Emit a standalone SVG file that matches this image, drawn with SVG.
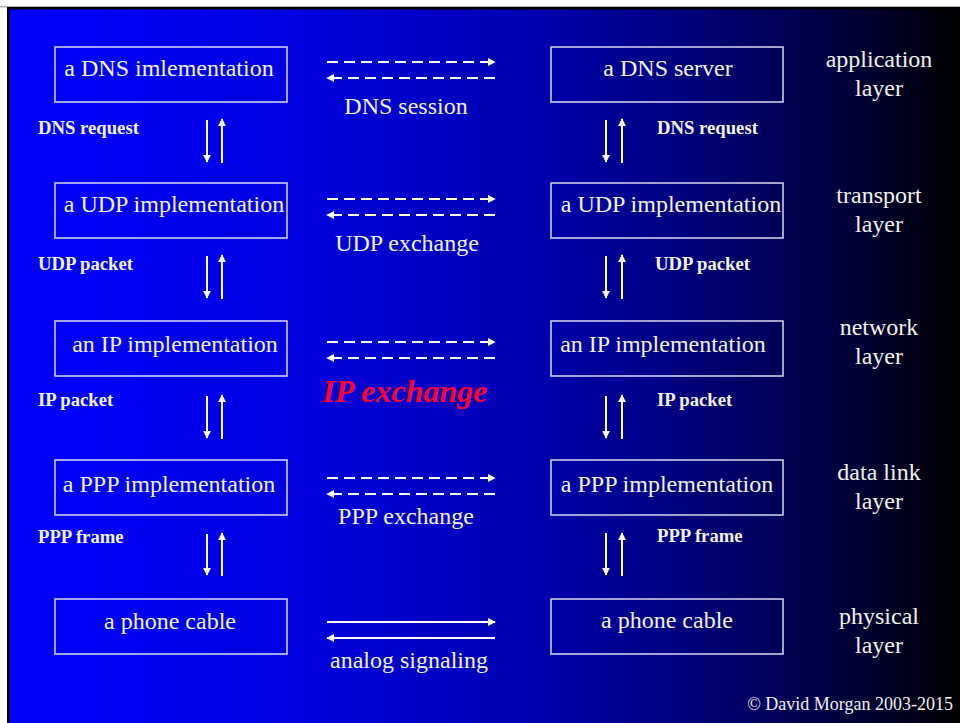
<svg xmlns="http://www.w3.org/2000/svg" width="960" height="723" viewBox="0 0 960 723">
<defs>
<linearGradient id="bg" x1="9" y1="0" x2="960" y2="0" gradientUnits="userSpaceOnUse">
<stop offset="0" stop-color="#0000FF"/>
<stop offset="0.3" stop-color="#0000E0"/>
<stop offset="0.55" stop-color="#0000B0"/>
<stop offset="0.7" stop-color="#000080"/>
<stop offset="0.83" stop-color="#000050"/>
<stop offset="0.92" stop-color="#000028"/>
<stop offset="1" stop-color="#000000"/>
</linearGradient>
<marker id="ah" viewBox="0 0 10 10" refX="9" refY="5" markerWidth="4" markerHeight="4" orient="auto" markerUnits="strokeWidth">
<path d="M0,0 L10,5 L0,10 Z" fill="#FFFFFF"/>
</marker>
<style>
.box{fill:none;stroke:#D8D8F0;stroke-width:1.5}
.bt{font-family:"Liberation Serif",serif;font-size:24px;fill:#F2F2F2;text-anchor:middle}
.lay{font-family:"Liberation Serif",serif;font-size:24px;fill:#F2F2F2;text-anchor:middle}
.pk{font-family:"Liberation Serif",serif;font-size:18.7px;font-weight:bold;fill:#F2F2F2}
.mid{font-family:"Liberation Serif",serif;font-size:24px;fill:#F2F2F2;text-anchor:middle}
.ip{font-family:"Liberation Serif",serif;font-size:32px;font-weight:bold;font-style:italic;fill:#FF0033;text-anchor:middle}
.da{stroke:#FFFFFF;stroke-width:2;stroke-dasharray:11,6;fill:none;marker-end:url(#ah)}
.so{stroke:#FFFFFF;stroke-width:2;fill:none;marker-end:url(#ah)}
.cp{font-family:"Liberation Serif",serif;font-size:18px;fill:#F2F2F2;text-anchor:end}
</style>
</defs>
<rect x="0" y="0" width="960" height="723" fill="#FFFFFF"/>
<rect x="0" y="6" width="960" height="1.5" fill="#B0B0B0"/>
<rect x="7" y="7" width="953" height="716" fill="#000000"/>
<rect x="9.5" y="9.5" width="950.5" height="713.5" fill="url(#bg)"/>

<g id="n-dns-impl"><rect class="box" x="55" y="47" width="232" height="55"/><text class="bt" x="169" y="76">a DNS imlementation</text></g>
<g id="n-udp-left"><rect class="box" x="55" y="183" width="232" height="55"/><text class="bt" x="174" y="212">a UDP implementation</text></g>
<g id="n-ip-left"><rect class="box" x="55" y="321" width="232" height="55"/><text class="bt" x="175" y="352">an IP implementation</text></g>
<g id="n-ppp-left"><rect class="box" x="55" y="460" width="232" height="55"/><text class="bt" x="169" y="492">a PPP implementation</text></g>
<g id="n-cable-left"><rect class="box" x="55" y="599" width="232" height="55"/><text class="bt" x="170" y="629">a phone cable</text></g>

<g id="n-dns-server"><rect class="box" x="551" y="47" width="232" height="55"/><text class="bt" x="668" y="76">a DNS server</text></g>
<g id="n-udp-right"><rect class="box" x="551" y="183" width="232" height="55"/><text class="bt" x="671" y="212">a UDP implementation</text></g>
<g id="n-ip-right"><rect class="box" x="551" y="321" width="232" height="55"/><text class="bt" x="663" y="352">an IP implementation</text></g>
<g id="n-ppp-right"><rect class="box" x="551" y="460" width="232" height="55"/><text class="bt" x="667" y="492">a PPP implementation</text></g>
<g id="n-cable-right"><rect class="box" x="551" y="599" width="232" height="55"/><text class="bt" x="667" y="628">a phone cable</text></g>

<g id="layers">
<text class="lay" x="879" y="67">application</text><text class="lay" x="879" y="96">layer</text>
<text class="lay" x="879" y="203">transport</text><text class="lay" x="879" y="232">layer</text>
<text class="lay" x="879" y="335">network</text><text class="lay" x="879" y="364">layer</text>
<text class="lay" x="879" y="480">data link</text><text class="lay" x="879" y="509">layer</text>
<text class="lay" x="879" y="624">physical</text><text class="lay" x="879" y="653">layer</text>
</g>

<g id="connectors">
<line class="da" x1="327" y1="62" x2="495" y2="62"/>
<line class="da" x1="495" y1="78" x2="327" y2="78"/>
<line class="da" x1="327" y1="199" x2="495" y2="199"/>
<line class="da" x1="495" y1="215" x2="327" y2="215"/>
<line class="da" x1="327" y1="342" x2="495" y2="342"/>
<line class="da" x1="495" y1="358" x2="327" y2="358"/>
<line class="da" x1="327" y1="478" x2="495" y2="478"/>
<line class="da" x1="495" y1="494" x2="327" y2="494"/>
<line class="so" x1="327" y1="622" x2="495" y2="622"/>
<line class="so" x1="495" y1="638" x2="327" y2="638"/>

<line class="so" x1="207" y1="120" x2="207" y2="162"/>
<line class="so" x1="222" y1="163" x2="222" y2="119"/>
<line class="so" x1="207" y1="256" x2="207" y2="298"/>
<line class="so" x1="222" y1="299" x2="222" y2="255"/>
<line class="so" x1="207" y1="396" x2="207" y2="438"/>
<line class="so" x1="222" y1="439" x2="222" y2="395"/>
<line class="so" x1="207" y1="534" x2="207" y2="575"/>
<line class="so" x1="222" y1="576" x2="222" y2="533"/>

<line class="so" x1="606" y1="120" x2="606" y2="162"/>
<line class="so" x1="622" y1="163" x2="622" y2="119"/>
<line class="so" x1="606" y1="256" x2="606" y2="298"/>
<line class="so" x1="622" y1="299" x2="622" y2="255"/>
<line class="so" x1="606" y1="396" x2="606" y2="438"/>
<line class="so" x1="622" y1="439" x2="622" y2="395"/>
<line class="so" x1="606" y1="533" x2="606" y2="575"/>
<line class="so" x1="622" y1="576" x2="622" y2="533"/>
</g>

<g id="labels">
<text class="mid" x="406" y="114">DNS session</text>
<text class="mid" x="407" y="251">UDP exchange</text>
<text class="ip" x="405" y="402">IP exchange</text>
<text class="mid" x="406" y="524">PPP exchange</text>
<text class="mid" x="409" y="668">analog signaling</text>

<text class="pk" x="38" y="134">DNS request</text>
<text class="pk" x="38" y="270">UDP packet</text>
<text class="pk" x="38" y="406">IP packet</text>
<text class="pk" x="38" y="543">PPP frame</text>
<text class="pk" x="657" y="134">DNS request</text>
<text class="pk" x="655" y="270">UDP packet</text>
<text class="pk" x="657" y="406">IP packet</text>
<text class="pk" x="657" y="542">PPP frame</text>

<text class="cp" x="953" y="710">© David Morgan 2003-2015</text>
</g>
</svg>
